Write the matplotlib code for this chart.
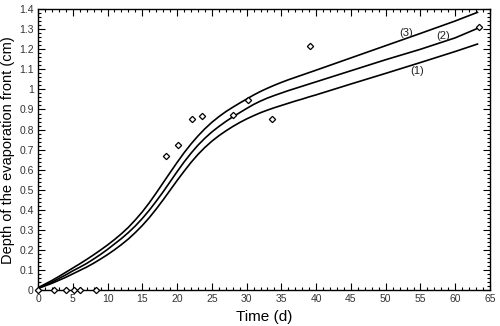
import matplotlib
matplotlib.use("Agg")
import matplotlib.pyplot as plt
from matplotlib.ticker import MultipleLocator, FuncFormatter

plt.rcParams['font.family'] = ['Liberation Sans', 'DejaVu Sans']

# measured data (diamonds)
obs_t = [0, 2.3, 4.0, 5.2, 6.0, 8.4, 18.4, 20.2, 22.1, 23.6, 28.0, 30.2, 33.6, 39.1, 63.4]
obs_d = [0, 0, 0, 0, 0, 0, 0.667, 0.721, 0.855, 0.869, 0.871, 0.947, 0.855, 1.215, 1.309]

# simulated curves
t_curve = [0, 1, 2, 3, 4, 5, 6, 7, 8, 9, 10, 11, 12, 13, 14, 15, 16, 17, 18, 19, 20,
           21, 22, 23, 24, 25, 26, 27, 28, 29, 30, 31, 32, 33, 34, 35, 36, 37, 38, 39, 40,
           45, 50, 55, 60, 63.2]
curve1 = [0.008, 0.021, 0.034, 0.049, 0.064, 0.081, 0.098, 0.115, 0.134, 0.155, 0.177,
          0.201, 0.227, 0.255, 0.287, 0.322, 0.361, 0.404, 0.450, 0.498, 0.546,
          0.592, 0.636, 0.676, 0.711, 0.742, 0.769, 0.793, 0.815, 0.835, 0.853,
          0.869, 0.884, 0.897, 0.909, 0.920, 0.931, 0.942, 0.952, 0.963, 0.973,
          1.027, 1.080, 1.134, 1.189, 1.226]
curve2 = [0.010, 0.025, 0.040, 0.058, 0.076, 0.096, 0.114, 0.133, 0.155, 0.178, 0.203,
          0.230, 0.257, 0.287, 0.320, 0.357, 0.398, 0.443, 0.490, 0.540, 0.590,
          0.638, 0.682, 0.722, 0.757, 0.788, 0.815, 0.840, 0.863, 0.884, 0.905,
          0.925, 0.942, 0.957, 0.970, 0.982, 0.994, 1.005, 1.016, 1.027, 1.038,
          1.093, 1.148, 1.200, 1.257, 1.304]
curve3 = [0.012, 0.030, 0.048, 0.068, 0.089, 0.110, 0.131, 0.153, 0.176, 0.200, 0.225,
          0.252, 0.281, 0.313, 0.350, 0.390, 0.435, 0.484, 0.535, 0.586, 0.636,
          0.684, 0.728, 0.768, 0.804, 0.836, 0.864, 0.889, 0.911, 0.932, 0.952,
          0.972, 0.990, 1.006, 1.021, 1.035, 1.048, 1.060, 1.072, 1.084, 1.096,
          1.157, 1.218, 1.279, 1.341, 1.384]

labels = ['(1)', '(2)', '(3)']
label_pos = [(54.5, 1.091), (58.2, 1.267), (53.0, 1.279)]

fig = plt.figure(figsize=(5.0, 3.26), dpi=100)
ax = fig.add_axes([0.076, 0.110, 0.904, 0.862])

for c in (curve1, curve2, curve3):
    ax.plot(t_curve, c, color='black', lw=1.2, zorder=2)

ax.plot(obs_t, obs_d, linestyle='none', marker='D', markersize=3.2,
        markerfacecolor='white', markeredgecolor='black', markeredgewidth=0.9,
        zorder=3, clip_on=False)

for lab, (x, y) in zip(labels, label_pos):
    ax.text(x, y, lab, fontsize=8, ha='center', va='center', color='#222222')

ax.set_xlim(0, 65)
ax.set_ylim(0, 1.4)
ax.xaxis.set_major_locator(MultipleLocator(5))
ax.xaxis.set_minor_locator(MultipleLocator(1))
ax.yaxis.set_major_locator(MultipleLocator(0.1))
ax.yaxis.set_minor_locator(MultipleLocator(0.02))
ax.yaxis.set_major_formatter(FuncFormatter(lambda v, p: '%g' % round(v, 2)))
ax.tick_params(which='both', direction='in', top=True, right=True,
               labelsize=7.5, labelcolor='#333333', width=0.8)
ax.tick_params(which='major', length=5, pad=3)
ax.tick_params(which='minor', length=2.5)
for s in ax.spines.values():
    s.set_linewidth(1.0)

ax.set_xlabel('Time (d)', fontsize=11, labelpad=4)
ax.set_ylabel('Depth of the evaporation front (cm)', fontsize=10.5, labelpad=3)

fig.savefig('out.png', dpi=100)
